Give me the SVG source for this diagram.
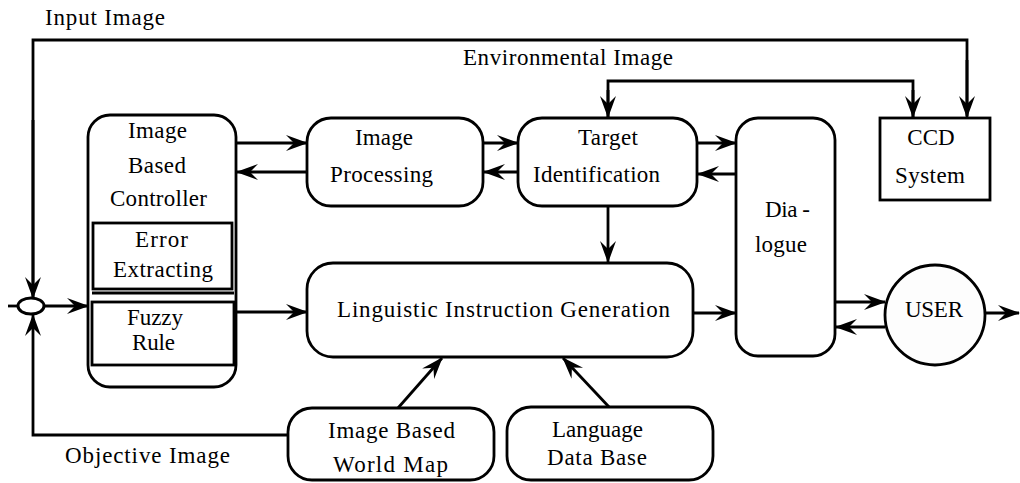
<svg xmlns="http://www.w3.org/2000/svg" width="1020" height="483" viewBox="0 0 1020 483">
<style>
.box{fill:#fff;stroke:#000;stroke-width:2.8}
.ln{fill:none;stroke:#000;stroke-width:2.8}
.arr{fill:none;stroke:#000;stroke-width:2.8;marker-end:url(#ah)}
text{font-family:"Liberation Serif","Times New Roman",serif;font-size:23px;fill:#000}
</style>
<defs>
<marker id="ah" viewBox="0 0 22 16" refX="21" refY="8" markerWidth="22" markerHeight="16" markerUnits="userSpaceOnUse" orient="auto">
<path d="M0,0 L22,8 L0,16 L8,8 Z" fill="#000"/>
</marker>
</defs>
<rect width="1020" height="483" fill="#fff"/>

<g id="connectors">
<polyline class="ln" points="33,298 33,40 967,40 967,116"/>
<line class="arr" x1="33" y1="120" x2="33" y2="298"/>
<line class="arr" x1="967" y1="60" x2="967" y2="117"/>
<polyline class="ln" points="608,117 608,81 913,81 913,117"/>
<line class="arr" x1="608" y1="90" x2="608" y2="117"/>
<line class="arr" x1="913" y1="90" x2="913" y2="117"/>
<polyline class="arr" points="288,435 33,435 33,315"/>
<line class="arr" x1="45" y1="306" x2="88" y2="306"/>
<line class="arr" x1="236" y1="143" x2="307" y2="143"/>
<line class="arr" x1="307" y1="172" x2="237" y2="172"/>
<line class="arr" x1="483" y1="143" x2="518" y2="143"/>
<line class="arr" x1="518" y1="172" x2="484" y2="172"/>
<line class="arr" x1="697" y1="143" x2="736" y2="143"/>
<line class="arr" x1="736" y1="174" x2="698" y2="174"/>
<line class="arr" x1="608" y1="206" x2="608" y2="262"/>
<line class="arr" x1="234" y1="312" x2="307" y2="312"/>
<line class="arr" x1="693" y1="313" x2="736" y2="313"/>
<line class="arr" x1="835" y1="302" x2="885" y2="302"/>
<line class="arr" x1="885" y1="327" x2="836" y2="327"/>
<line class="arr" x1="985" y1="313" x2="1019" y2="313"/>
<line class="arr" x1="398" y1="408" x2="442" y2="358"/>
<line class="arr" x1="610" y1="408" x2="563" y2="358"/>
</g>

<g id="junction">
<ellipse cx="31" cy="306" rx="13" ry="8" fill="#fff" stroke="#000" stroke-width="3"/>
<line class="ln" x1="8" y1="306" x2="18" y2="306"/>
</g>

<g id="labels">
<text x="45" y="25" textLength="120" lengthAdjust="spacing">Input Image</text>
<text x="463" y="65" textLength="210" lengthAdjust="spacing">Environmental Image</text>
<text x="65" y="463" textLength="165" lengthAdjust="spacing">Objective Image</text>
</g>

<g id="controller">
<rect class="box" x="88" y="115" width="148" height="272" rx="22"/>
<rect class="box" x="93" y="223" width="139" height="66" stroke-width="2"/>
<line class="ln" x1="92" y1="293" x2="234" y2="293" stroke-width="1.5"/>
<rect class="box" x="92" y="302" width="142" height="63" stroke-width="2"/>
<text x="128" y="138" textLength="59" lengthAdjust="spacing">Image</text>
<text x="128" y="173" textLength="58" lengthAdjust="spacing">Based</text>
<text x="110" y="206" textLength="97" lengthAdjust="spacing">Controller</text>
<text x="135" y="247" textLength="53" lengthAdjust="spacing">Error</text>
<text x="113" y="277" textLength="100" lengthAdjust="spacing">Extracting</text>
<text x="127" y="325" textLength="56" lengthAdjust="spacing">Fuzzy</text>
<text x="132" y="350" textLength="43" lengthAdjust="spacing">Rule</text>
</g>

<g id="image-processing">
<rect class="box" x="307" y="118" width="176" height="88" rx="24"/>
<text x="355" y="145" textLength="58" lengthAdjust="spacing">Image</text>
<text x="330" y="182" textLength="103" lengthAdjust="spacing">Processing</text>
</g>

<g id="target-identification">
<rect class="box" x="518" y="118" width="179" height="88" rx="24"/>
<text x="578" y="145" textLength="60" lengthAdjust="spacing">Target</text>
<text x="533" y="182" textLength="127" lengthAdjust="spacing">Identification</text>
</g>

<g id="dialogue">
<rect class="box" x="736" y="118" width="99" height="238" rx="22"/>
<text x="765" y="217" textLength="45" lengthAdjust="spacing">Dia -</text>
<text x="755" y="252" textLength="52" lengthAdjust="spacing">logue</text>
</g>

<g id="ccd-system">
<rect class="box" x="880" y="118" width="110" height="82"/>
<text x="931" y="145" text-anchor="middle" font-size="24">CCD</text>
<text x="895" y="183" textLength="70" lengthAdjust="spacing">System</text>
</g>

<g id="user">
<circle cx="935" cy="315" r="50" fill="#fdfdfd" stroke="#000" stroke-width="2.8"/>
<text x="905" y="317" textLength="58" lengthAdjust="spacing">USER</text>
</g>

<g id="linguistic">
<rect class="box" x="307" y="263" width="386" height="94" rx="26"/>
<text x="337" y="317" textLength="333" lengthAdjust="spacing">Linguistic Instruction Generation</text>
</g>

<g id="world-map">
<rect class="box" x="288" y="408" width="206" height="72" rx="24"/>
<text x="328" y="438" textLength="127" lengthAdjust="spacing">Image Based</text>
<text x="333" y="472" textLength="115" lengthAdjust="spacing">World Map</text>
</g>

<g id="language-db">
<rect class="box" x="507" y="407" width="206" height="73" rx="24"/>
<text x="552" y="437" textLength="91" lengthAdjust="spacing">Language</text>
<text x="547" y="465" textLength="100" lengthAdjust="spacing">Data Base</text>
</g>
</svg>
